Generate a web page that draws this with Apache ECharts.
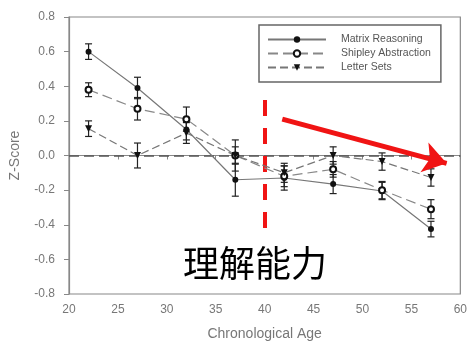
<!DOCTYPE html>
<html>
<head>
<meta charset="utf-8">
<script src="https://cdn.jsdelivr.net/npm/echarts@6/dist/echarts.min.js"></script>
<style>
html,body{margin:0;padding:0;background:#fff;}
#chart{width:470px;height:347px;}
</style>
</head>
<body>
<div id="chart"></div>
<script>
const ages = [22, 27, 32, 37, 42, 47, 52, 57];
const matrixReasoning = [0.60, 0.39, 0.15, -0.14, -0.13, -0.165, -0.205, -0.425];
const matrixErr = [0.045, 0.062, 0.06, 0.095, 0.07, 0.055, 0.05, 0.045];
const shipleyAbstraction = [0.38, 0.27, 0.21, 0.0, -0.12, -0.08, -0.20, -0.31];
const shipleyErr = [0.04, 0.065, 0.07, 0.05, 0.06, 0.045, 0.05, 0.055];
const letterSets = [0.155, 0.0, 0.13, 0.0, -0.10, 0.0, -0.035, -0.127];
const letterErr = [0.045, 0.072, 0.06, 0.09, 0.055, 0.05, 0.05, 0.05];
const seriesNames = ['Matrix Reasoning', 'Shipley Abstraction', 'Letter Sets'];
const xAxisName = 'Chronological Age';
const yAxisName = 'Z-Score';
const overlayText = '理解能力';
const dividerAge = 40;
const dividerRange = [0.32, -0.42];
const trendStart = [41.8, 0.21];
const trendEnd = [58.6, -0.045];

const chart = echarts.init(document.getElementById('chart'), null, {renderer: 'canvas'});

function pairs(vals) { return ages.map((a, i) => [a, vals[i]]); }
function errData(vals, errs) { return ages.map((a, i) => [a, vals[i] - errs[i], vals[i] + errs[i]]); }

function errSeries(vals, errs) {
  return {
    type: 'custom',
    silent: true,
    z: 3,
    data: errData(vals, errs),
    renderItem: function (params, api) {
      const x = api.value(0);
      const top = api.coord([x, api.value(2)]);
      const bot = api.coord([x, api.value(1)]);
      const hw = 3.5;
      const st = {stroke: '#222', lineWidth: 1.2};
      return {
        type: 'group',
        children: [
          {type: 'line', shape: {x1: top[0], y1: top[1], x2: bot[0], y2: bot[1]}, style: st},
          {type: 'line', shape: {x1: top[0] - hw, y1: top[1], x2: top[0] + hw, y2: top[1]}, style: st},
          {type: 'line', shape: {x1: bot[0] - hw, y1: bot[1], x2: bot[0] + hw, y2: bot[1]}, style: st}
        ]
      };
    }
  };
}

const labelFont = 'Liberation Sans, Arial, sans-serif';

const option = {
  animation: false,
  backgroundColor: '#fff',
  grid: {left: 68, right: 7, top: 17, bottom: 53, show: true, borderColor: '#888', borderWidth: 1.2, backgroundColor: 'transparent'},
  legend: {
    data: seriesNames,
    orient: 'vertical',
    left: 259,
    top: 25,
    itemWidth: 58,
    itemHeight: 8,
    itemGap: 1,
    padding: [8, 10, 8, 8],
    borderColor: '#666',
    borderWidth: 1.5,
    selectedMode: false,
    textStyle: {fontSize: 10.5, color: '#555', fontFamily: labelFont, padding: [0, 0, 0, 10], lineHeight: 13}
  },
  xAxis: {
    type: 'value', min: 20, max: 60, interval: 5,
    name: xAxisName, nameLocation: 'middle', nameGap: 33,
    nameTextStyle: {fontSize: 14, color: '#777', fontFamily: labelFont},
    axisLine: {show: true, lineStyle: {color: '#888', width: 1.2}},
    axisTick: {show: true, length: 4, lineStyle: {color: '#888'}},
    axisLabel: {fontSize: 12, color: '#777', margin: 10, fontFamily: labelFont},
    splitLine: {show: false}
  },
  yAxis: {
    type: 'value', min: -0.8, max: 0.8, interval: 0.2,
    name: yAxisName, nameLocation: 'middle', nameGap: 47, nameRotate: 90,
    nameTextStyle: {fontSize: 14, color: '#777', fontFamily: labelFont},
    axisLine: {show: true, lineStyle: {color: '#888', width: 1.2}},
    axisTick: {show: true, length: 5, lineStyle: {color: '#888'}},
    axisLabel: {fontSize: 12, color: '#777', margin: 14, fontFamily: labelFont,
      formatter: v => v.toFixed(1)},
    splitLine: {show: false}
  },
  graphic: [{
    type: 'text', left: 183, top: 245, z: 100,
    style: {text: overlayText, fontSize: 36, fill: '#000', fontFamily: 'Noto Sans CJK SC'}
  }],
  series: [
    errSeries(matrixReasoning, matrixErr),
    errSeries(shipleyAbstraction, shipleyErr),
    errSeries(letterSets, letterErr),
    {
      name: seriesNames[0], type: 'line', data: pairs(matrixReasoning), z: 5,
      symbol: 'circle', symbolSize: 6,
      itemStyle: {color: '#111'},
      lineStyle: {color: '#777', width: 1.2}
    },
    {
      name: seriesNames[1], type: 'line', data: pairs(shipleyAbstraction), z: 5,
      symbol: 'emptyCircle', symbolSize: 6,
      itemStyle: {color: '#111', borderWidth: 1},
      lineStyle: {color: '#888', width: 1.2, type: [10, 5]}
    },
    {
      name: seriesNames[2], type: 'line', data: pairs(letterSets), z: 5,
      symbol: 'triangle', symbolRotate: 180, symbolSize: 7,
      itemStyle: {color: '#111'},
      lineStyle: {color: '#777', width: 1.2, type: [8, 4]}
    },
    {
      type: 'line', data: [], z: 4, silent: true,
      markLine: {
        silent: true, symbol: 'none', label: {show: false},
        lineStyle: {color: '#555', width: 1.5, type: [10, 5]},
        data: [{yAxis: 0}]
      }
    },
    {
      type: 'line', data: [], z: 20, silent: true,
      markLine: {
        silent: true, symbol: 'none', label: {show: false},
        lineStyle: {color: '#f01414', width: 4, type: [16, 12]},
        data: [[{coord: [dividerAge, dividerRange[0]]}, {coord: [dividerAge, dividerRange[1]]}]]
      }
    },
    {
      type: 'line', data: [], z: 21, silent: true,
      markLine: {
        silent: true, symbol: ['none', 'arrow'], symbolSize: 23, label: {show: false},
        lineStyle: {color: '#f01414', width: 5, type: 'solid'},
        itemStyle: {color: '#f01414'},
        data: [[{coord: trendStart}, {coord: trendEnd}]]
      }
    }
  ]
};
chart.setOption(option);
</script>
</body>
</html>
